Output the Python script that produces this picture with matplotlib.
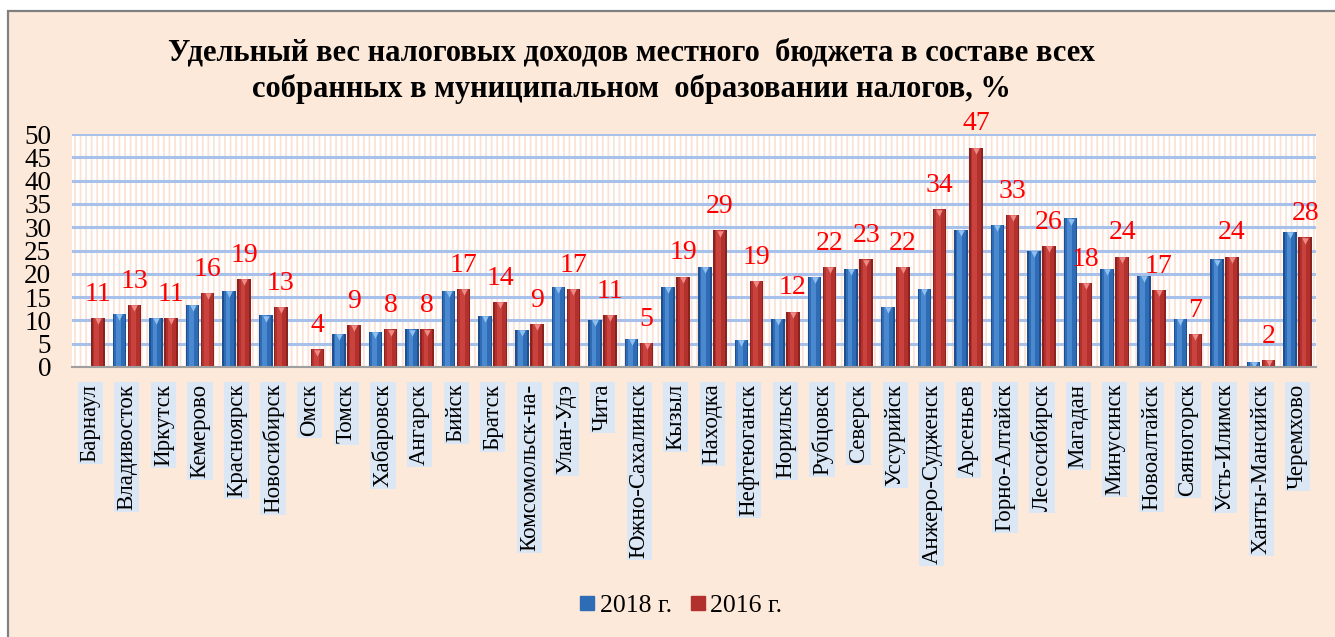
import numpy as np
import matplotlib
matplotlib.use("Agg")
import matplotlib.pyplot as plt
from matplotlib.lines import Line2D

# --- данные ---
cities = ["Барнаул", "Владивосток", "Иркутск", "Кемерово", "Красноярск", "Новосибирск",
          "Омск", "Томск", "Хабаровск", "Ангарск", "Бийск", "Братск", "Комсомольск-на-",
          "Улан-Удэ", "Чита", "Южно-Сахалинск", "Кызыл", "Находка", "Нефтеюганск",
          "Норильск", "Рубцовск", "Северск", "Уссурийск", "Анжеро-Судженск", "Арсеньев",
          "Горно-Алтайск", "Лесосибирск", "Магадан", "Минусинск", "Новоалтайск",
          "Саяногорск", "Усть-Илимск", "Ханты-Мансийск", "Черемхово"]
v2018 = [np.nan, 11.4, 10.5, 13.3, 16.3, 11.1, np.nan, 7.1, 7.6, 8.1, 16.4, 11.0, 7.9,
         17.2, 10.1, 6.0, 17.2, 21.5, 5.8, 10.3, 19.4, 21.0, 12.9, 16.7, 29.4,
         30.5, 24.9, 31.9, 21.0, 19.6, 10.3, 23.1, 1.1, 29.0]
v2016 = [10.5, 13.3, 10.5, 15.9, 18.9, 12.9, 3.8, 9.0, 8.1, 8.1, 16.7, 14.0, 9.2,
         16.7, 11.2, 5.2, 19.4, 29.3, 18.5, 11.9, 21.5, 23.1, 21.5, 33.8, 47.1,
         32.6, 26.0, 18.1, 23.7, 16.5, 7.1, 23.7, 1.5, 27.8]
labels2016 = [11, 13, 11, 16, 19, 13, 4, 9, 8, 8, 17, 14, 9, 17, 11, 5, 19, 29, 19,
              12, 22, 23, 22, 34, 47, 33, 26, 18, 24, 17, 7, 24, 2, 28]
yticks = list(range(0, 51, 5))

title = ("Удельный вес налоговых доходов местного  бюджета в составе всех\n"
         "собранных в муниципальном  образовании налогов, %")

bg = "#FDE9D9"
blue = ("#1F4F8F", "#2E6DB6", "#4A88D0", "#8FC0F0")
red = ("#8A2320", "#B3312D", "#C9423D", "#F08A86")

plt.rcParams["font.family"] = ["Liberation Serif", "DejaVu Serif"]
plt.rcParams["hatch.linewidth"] = 1.3

fig = plt.figure(figsize=(13.35, 6.37), dpi=100)
fig.patch.set_facecolor("white")
# рамка диаграммы (серая линия слева и сверху)
fig.patches.append(plt.Rectangle((8 / 1335, -0.05), 1.1, 1.05 - 11 / 637,
                                 transform=fig.transFigure, facecolor=bg,
                                 edgecolor="#808080", linewidth=1.6, zorder=-10))

ax = fig.add_axes([72 / 1335, 1 - 367 / 637, (1316 - 72) / 1335, (367 - 134) / 637])
ax.patch.set_facecolor("white")
ax.patch.set_edgecolor("#FAE3D6")
ax.patch.set_linewidth(0)
ax.patch.set_hatch("|||")

x = np.arange(len(cities))
w = 0.37
off = 0.205


def draw_bars(xs, vals, cols):
    # псевдо-объёмные столбцы: тёмный край, светлая середина
    ax.bar(xs, vals, w, color=cols[0], zorder=3)
    ax.bar(xs, vals, w * 0.78, color=cols[1], zorder=4)
    ax.bar(xs - w * 0.08, vals, w * 0.35, color=cols[2], zorder=5)
    ax.scatter(xs, np.array(vals) - 0.7, marker="v", s=22, color=cols[3],
               linewidths=0, zorder=6)


draw_bars(x - off, v2018, blue)
draw_bars(x + off, v2016, red)

for xi, v, lab in zip(x, v2016, labels2016):
    ax.annotate(str(lab), (xi + off, v), xytext=(0, 8), textcoords="offset points",
                ha="center", va="bottom", color="red", fontsize=20, zorder=7)

ax.set_xlim(-0.5, len(cities) - 0.5)
ax.set_ylim(0, 50)
ax.set_yticks(yticks)
ax.yaxis.grid(True, color="#A7C1EA", linewidth=2.2, zorder=1)
ax.set_axisbelow(True)
ax.tick_params(axis="y", length=0, labelsize=19.5, pad=15)
ax.set_xticks(x)
ax.set_xticklabels(cities, rotation=90, fontsize=16.5, va="top", ha="center")
ax.tick_params(axis="x", length=0, pad=12)
for t in ax.get_xticklabels():
    t.set_bbox(dict(facecolor="#DBE7F5", edgecolor="none", pad=1.5))

for s in ["top", "right", "left"]:
    ax.spines[s].set_visible(False)
ax.spines["bottom"].set_color("#A0A0A0")
ax.spines["bottom"].set_linewidth(1.5)
ax.spines["bottom"].set_zorder(8)

fig.text(0.473, 0.888, title, ha="center", va="center", fontsize=22, fontweight="bold",
         linespacing=1.3)

handles = [Line2D([], [], marker="s", linestyle="none", markersize=10, color=blue[1]),
           Line2D([], [], marker="s", linestyle="none", markersize=10, color=red[1])]
fig.legend(handles, ["2018 г.", "2016 г."], loc="center", bbox_to_anchor=(0.509, 0.049),
           ncol=2, frameon=False, fontsize=18.5, handletextpad=0.1, columnspacing=0.6,
           handlelength=0.8)

fig.savefig("out.png", dpi=100, facecolor=fig.get_facecolor())
